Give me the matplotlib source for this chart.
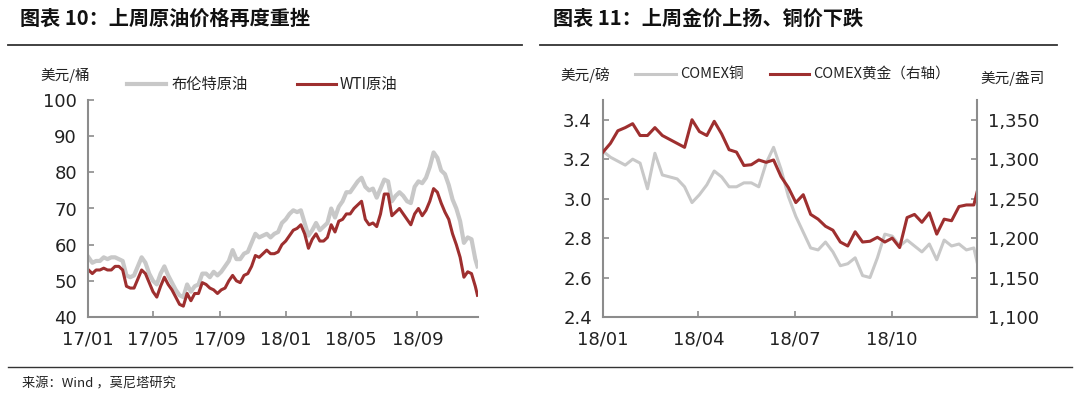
import matplotlib
matplotlib.use('Agg')
import matplotlib.pyplot as plt
import matplotlib.dates as mdates
import matplotlib.ticker as mticker
import pandas as pd

plt.rcParams['font.family'] = ['Noto Sans CJK SC', 'DejaVu Sans']

# ---- data: oil, weekly (Mondays) 2017-01-02 .. 2018-12-17, plus last print ----
brent = [56.5, 55, 55.5, 55.5, 56.5,
         56, 56.5, 56.5, 56,
         55.5, 51.5, 51, 51.5,
         54, 56.5, 55, 52,
         50, 49, 52, 54, 51.5,
         49.5, 47.5, 46, 45.5,
         49, 47, 48.5, 49, 52,
         52, 51, 52.5, 51.5,
         52.5, 54, 55.5, 58.5,
         56, 56, 57.5, 58, 60.5,
         63, 62, 62.5, 63,
         62, 63, 63.5, 66,
         # 2018
         67, 68.5, 69.5, 69, 69.5,
         66, 62.5, 64, 66,
         64, 65, 66, 70,
         67.5, 70.5, 72, 74.5, 74.5,
         76, 77.5, 78.5, 76,
         75, 75.5, 73, 75.5,
         78, 77.5, 72, 73.5, 74.5,
         73.5, 72, 71.5, 76,
         77.5, 77, 78.5, 81.5,
         85.5, 84, 80.5, 79.5, 76.5,
         72.5, 70, 66.5, 60.5,
         62, 61.5, 56,
         54]
wti = [53, 52, 53, 53, 53.5,
       53, 53, 54, 54,
       53, 48.5, 48, 48,
       50.5, 53, 52, 49.5,
       47, 45.5, 48.5, 51, 49,
       47.5, 45.5, 43.5, 43,
       46.5, 44.5, 46.5, 46.5, 49.5,
       49, 48, 47.5, 46.5,
       47.5, 48, 50, 51.5,
       50, 49.5, 51.5, 52, 54,
       57, 56.5, 57.5, 58.5,
       57.5, 57.5, 58, 60,
       # 2018
       61, 62.5, 64, 64.5, 65.5,
       63, 59, 61.5, 63,
       61, 61, 62, 65.5,
       63.5, 66.5, 67, 68.5, 68.5,
       70, 71, 72, 67,
       65.5, 66, 65, 68.5,
       74, 74, 68, 69, 70,
       68.5, 67, 65.5, 68.5,
       70, 68, 69.5, 72,
       75.5, 74.5, 71.5, 69, 67,
       63, 60, 56.5, 51,
       52.5, 52, 48.5,
       46]
oil_dates = list(pd.date_range('2017-01-02', '2018-12-17', freq='W-MON')) + [pd.Timestamp('2018-12-21')]

# ---- data: metals, weekly 2018-01-01 .. 2018-12-17, plus last print ----
copper = [3.24, 3.21, 3.19, 3.17, 3.20, 3.18, 3.05, 3.23, 3.12, 3.11,
          3.10, 3.06, 2.98, 3.02, 3.07, 3.14, 3.11, 3.06, 3.06, 3.08,
          3.08, 3.06, 3.18, 3.26, 3.15, 3.01, 2.91, 2.83, 2.75, 2.74,
          2.78, 2.73, 2.66, 2.67, 2.70, 2.61, 2.60, 2.70, 2.82, 2.81,
          2.76, 2.79, 2.76, 2.73, 2.77, 2.69, 2.79, 2.76, 2.77, 2.74,
          2.75, 2.68]
gold = [1309, 1320, 1336, 1340, 1345, 1330, 1330, 1340, 1330, 1325,
        1320, 1315, 1350, 1335, 1330, 1348, 1332, 1312, 1309, 1292,
        1293, 1299, 1296, 1299, 1278, 1264, 1245, 1255, 1230, 1224,
        1215, 1210, 1195, 1190, 1208, 1195, 1196, 1201, 1195, 1200,
        1188, 1226, 1230, 1220, 1232, 1205, 1224, 1222, 1240, 1242,
        1242, 1258]
metal_dates = list(pd.date_range('2018-01-01', '2018-12-17', freq='W-MON')) + [pd.Timestamp('2018-12-20')]

GRAY = '#c8c8c8'
RED = '#9e2f2f'
SPINE = '#8c8c8c'

fig = plt.figure(figsize=(10.8, 3.99), dpi=100)

# titles, rules and source line
fig.text(20 / 1080, 1 - 18 / 399, '图表 10：上周原油价格再度重挫', fontsize=14.5,
         fontweight='bold', va='center', ha='left', color='#111111')
fig.text(553 / 1080, 1 - 18 / 399, '图表 11：上周金价上扬、铜价下跌', fontsize=14.5,
         fontweight='bold', va='center', ha='left', color='#111111')
fig.add_artist(plt.Line2D([8 / 1080, 522 / 1080], [1 - 45 / 399] * 2, color='#333333', lw=1.3))
fig.add_artist(plt.Line2D([540 / 1080, 1057 / 1080], [1 - 45 / 399] * 2, color='#333333', lw=1.3))
fig.add_artist(plt.Line2D([8 / 1080, 1072 / 1080], [1 - 367 / 399] * 2, color='#333333', lw=1.0))
fig.text(22 / 1080, 1 - 384 / 399, '来源：Wind ，莫尼塔研究', fontsize=9.5,
         va='center', ha='left', color='#222222')


def style_axis(ax, right=False):
    for s in ['top', 'right']:
        ax.spines[s].set_visible(False)
    for s in ['left', 'bottom']:
        ax.spines[s].set_color(SPINE)
        ax.spines[s].set_linewidth(1.5)
    ax.tick_params(axis='both', direction='in', length=4, width=1.2, color=SPINE,
                   labelsize=13, colors='#222222')
    ax.tick_params(axis='x', pad=10)
    ax.tick_params(axis='y', pad=8)


# ---- left chart: oil ----
ax1 = fig.add_axes([88 / 1080, 1 - 317 / 399, 390 / 1080, 217 / 399])
ax1.plot(oil_dates, brent, color=GRAY, lw=3.0, solid_joinstyle='round')
ax1.plot(oil_dates, wti, color=RED, lw=2.2, solid_joinstyle='round')
ax1.set_xlim(pd.Timestamp('2017-01-01'), pd.Timestamp('2018-12-22'))
ax1.set_ylim(40, 100)
ax1.set_yticks(range(40, 101, 10))
ax1.set_xticks(pd.date_range('2017-01-01', '2018-09-01', freq='4MS'))
ax1.xaxis.set_major_formatter(mdates.DateFormatter('%y/%m'))
style_axis(ax1)
for lab in ax1.get_xticklabels() + ax1.get_yticklabels():
    lab.set_family('DejaVu Sans')

fig.text(40 / 1080, 1 - 75 / 399, '美元/桶', fontsize=10.5, va='center', ha='left', color='#222222')
fig.add_artist(plt.Line2D([127 / 1080, 166 / 1080], [1 - 84 / 399] * 2, color=GRAY, lw=3.0))
fig.text(172 / 1080, 1 - 84 / 399, '布伦特原油', fontsize=11, va='center', ha='left', color='#222222')
fig.add_artist(plt.Line2D([297 / 1080, 336 / 1080], [1 - 84 / 399] * 2, color=RED, lw=2.2))
fig.text(340 / 1080, 1 - 84 / 399, 'WTI原油', fontsize=11, va='center', ha='left', color='#222222')

# ---- right chart: copper / gold ----
ax2 = fig.add_axes([603 / 1080, 1 - 317 / 399, 374 / 1080, 217 / 399])
ax2.plot(metal_dates, copper, color=GRAY, lw=2.2, solid_joinstyle='round')
ax2.set_xlim(pd.Timestamp('2018-01-01'), pd.Timestamp('2018-12-20'))
ax2.set_ylim(2.4, 3.5)
ax2.set_yticks([2.4, 2.6, 2.8, 3.0, 3.2, 3.4])
ax2.yaxis.set_major_formatter(mticker.FormatStrFormatter('%.1f'))
ax2.set_xticks(pd.date_range('2018-01-01', '2018-10-01', freq='3MS'))
ax2.xaxis.set_major_formatter(mdates.DateFormatter('%y/%m'))
style_axis(ax2)

ax3 = ax2.twinx()
ax3.plot(metal_dates, gold, color=RED, lw=2.2, solid_joinstyle='round')
ax3.set_ylim(1100, 1375)
ax3.set_yticks(range(1100, 1351, 50))
ax3.yaxis.set_major_formatter(mticker.StrMethodFormatter('{x:,.0f}'))
for s in ['top', 'left', 'bottom']:
    ax3.spines[s].set_visible(False)
ax3.spines['right'].set_color(SPINE)
ax3.spines['right'].set_linewidth(1.5)
ax3.tick_params(axis='y', direction='in', length=4, width=1.2, color=SPINE,
                labelsize=13, colors='#222222', pad=8)
for lab in ax2.get_xticklabels() + ax2.get_yticklabels() + ax3.get_yticklabels():
    lab.set_family('DejaVu Sans')

fig.text(560 / 1080, 1 - 75 / 399, '美元/磅', fontsize=10.5, va='center', ha='left', color='#222222')
fig.add_artist(plt.Line2D([635 / 1080, 676 / 1080], [1 - 74 / 399] * 2, color=GRAY, lw=2.2))
fig.text(680 / 1080, 1 - 74 / 399, 'COMEX铜', fontsize=10.5, va='center', ha='left', color='#222222')
fig.add_artist(plt.Line2D([770 / 1080, 809 / 1080], [1 - 74 / 399] * 2, color=RED, lw=2.2))
fig.text(813 / 1080, 1 - 74 / 399, 'COMEX黄金（右轴）', fontsize=10.5, va='center', ha='left', color='#222222')
fig.text(1045 / 1080, 1 - 78 / 399, '美元/盎司', fontsize=10.5, va='center', ha='right', color='#222222')

fig.savefig('out.png', dpi=100, facecolor='white')
